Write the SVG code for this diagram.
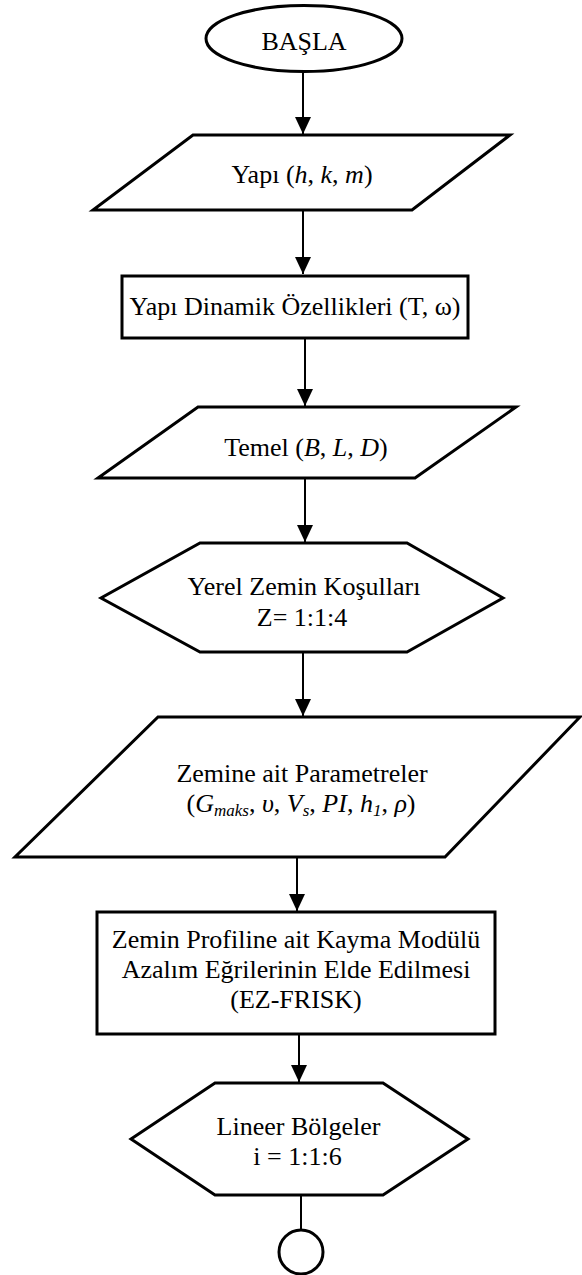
<svg xmlns="http://www.w3.org/2000/svg" width="582" height="1275" viewBox="0 0 582 1275">
<style>
.s{fill:#fff;stroke:#000;stroke-width:3;stroke-linejoin:miter}
.c{fill:none;stroke:#000;stroke-width:2}
.t{font-family:"Liberation Serif","Times New Roman",serif;font-size:26px;text-anchor:middle;fill:#000}
.i{font-style:italic}
.sub{font-style:italic;font-size:17px}
</style>
<defs>
<marker id="arr" markerWidth="18" markerHeight="16" refX="17" refY="8" orient="auto" markerUnits="userSpaceOnUse">
<path d="M0,0 L17,8 L0,16 Z" fill="#000"/>
</marker>
</defs>
<rect width="582" height="1275" fill="#fff"/>
<g id="connectors">
<line class="c" x1="303" y1="72" x2="303" y2="134" marker-end="url(#arr)"/>
<line class="c" x1="303" y1="210" x2="303" y2="274" marker-end="url(#arr)"/>
<line class="c" x1="305" y1="338" x2="305" y2="406" marker-end="url(#arr)"/>
<line class="c" x1="305" y1="478" x2="305" y2="542" marker-end="url(#arr)"/>
<line class="c" x1="303" y1="652" x2="303" y2="716" marker-end="url(#arr)"/>
<line class="c" x1="297" y1="857" x2="297" y2="911" marker-end="url(#arr)"/>
<line class="c" x1="299" y1="1034" x2="299" y2="1082" marker-end="url(#arr)"/>
<line class="c" x1="301" y1="1195" x2="301" y2="1230"/>
</g>
<g id="start">
<ellipse class="s" cx="304" cy="38.5" rx="98" ry="33"/>
<text class="t" x="304" y="50">BAŞLA</text>
</g>
<g id="yapi">
<polygon class="s" points="193,135 510,135 412,210 93,210"/>
<text class="t" x="302" y="183">Yapı (<tspan class="i">h</tspan>, <tspan class="i">k</tspan>, <tspan class="i">m</tspan>)</text>
</g>
<g id="dinamik">
<rect class="s" x="122" y="276" width="346" height="62"/>
<text class="t" x="295" y="315">Yapı Dinamik Özellikleri (T, ω)</text>
</g>
<g id="temel">
<polygon class="s" points="198,407 516,407 415,478 98,478"/>
<text class="t" x="306" y="456">Temel (<tspan class="i">B</tspan>, <tspan class="i">L</tspan>, <tspan class="i">D</tspan>)</text>
</g>
<g id="zemin-kosul">
<polygon class="s" points="200,543 407,543 503,598 407,652 200,652 101,598"/>
<text class="t" x="304" y="595">Yerel Zemin Koşulları</text>
<text class="t" x="302" y="626">Z= 1:1:4</text>
</g>
<g id="parametre">
<polygon class="s" points="158,717 580,717 445,857 15,857"/>
<text class="t" x="302" y="782">Zemine ait Parametreler</text>
<text class="t" x="301" y="812">(<tspan class="i">G</tspan><tspan class="sub" dy="4">maks</tspan><tspan dy="-4">, </tspan><tspan class="i">υ</tspan>, <tspan class="i">V</tspan><tspan class="sub" dy="4">s</tspan><tspan dy="-4">, </tspan><tspan class="i">PI</tspan>, <tspan class="i">h</tspan><tspan class="sub" dy="4">1</tspan><tspan dy="-4">, </tspan><tspan class="i">ρ</tspan>)</text>
</g>
<g id="kayma">
<rect class="s" x="97" y="912" width="398" height="122"/>
<text class="t" x="296" y="948">Zemin Profiline ait Kayma Modülü</text>
<text class="t" x="296" y="978">Azalım Eğrilerinin Elde Edilmesi</text>
<text class="t" x="296" y="1008">(EZ-FRISK)</text>
</g>
<g id="lineer">
<polygon class="s" points="215,1083 383,1083 468,1139 383,1195 215,1195 131,1139"/>
<text class="t" x="298.5" y="1135">Lineer Bölgeler</text>
<text class="t" x="297.5" y="1165">i = 1:1:6</text>
</g>
<g id="connector-circle">
<circle class="s" cx="301" cy="1252" r="22"/>
</g>
</svg>
